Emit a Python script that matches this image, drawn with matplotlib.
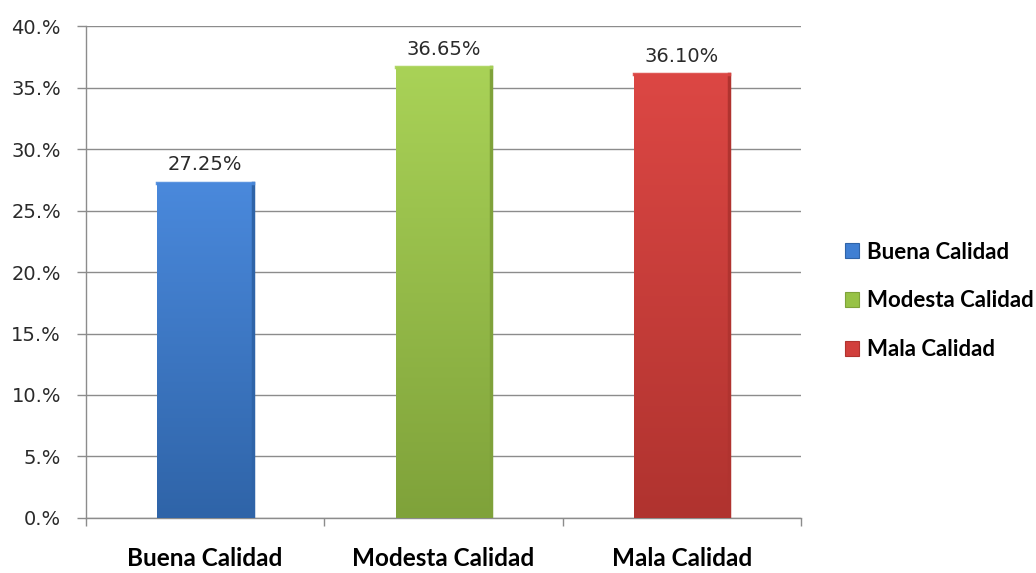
import numpy as np
import matplotlib
matplotlib.use("Agg")
import matplotlib.pyplot as plt
import matplotlib.colors as mcolors
from matplotlib.patches import Patch
from matplotlib.ticker import FixedLocator, FuncFormatter

categories = ['Buena Calidad', 'Modesta Calidad', 'Mala Calidad']
values = [27.25, 36.65, 36.10]
labels = ['27.25%', '36.65%', '36.10%']
colors_top = ['#4a89dc', '#a9d257', '#dc4744']
colors_bot = ['#2f64a8', '#7fa23a', '#b0332f']
colors_mid = ['#3f7fd3', '#97c246', '#d13f3c']
yticks = [0, 5, 10, 15, 20, 25, 30, 35, 40]

fig = plt.figure(figsize=(10.36, 5.73), dpi=100)
ax = fig.add_axes([0.083, 0.096, 0.690, 0.8586])

x = np.arange(len(categories))
width = 0.40
bars = ax.bar(x, values, width=width, color=colors_mid, edgecolor='none', zorder=3)

# vertical gradient inside each bar
for b, ct, cb in zip(bars, colors_top, colors_bot):
    cmap = mcolors.LinearSegmentedColormap.from_list('g', [cb, ct])
    grad = np.linspace(0, 1, 256).reshape(-1, 1)
    x0 = b.get_x()
    im = ax.imshow(grad, cmap=cmap, origin='lower', aspect='auto', zorder=3.5,
                   extent=[x0, x0 + b.get_width(), 0, b.get_height()])
    im.set_clip_path(b)
    # bevel: darker right edge, lighter top band
    ax.plot([x0 + b.get_width()] * 2, [0, b.get_height()], color=cb, lw=2.5, zorder=4)
    ax.plot([x0, x0 + b.get_width()], [b.get_height()] * 2, color=ct, lw=2.5, zorder=4,
            alpha=0.9)

for xi, v, lab in zip(x, values, labels):
    ax.annotate(lab, (xi, v), xytext=(0, 6), textcoords='offset points',
                ha='center', va='bottom', fontsize=14, color='#2a2a2a',
                family='DejaVu Sans')

ax.set_xlim(-0.5, 2.5)
ax.set_ylim(0, 40)
ax.yaxis.set_major_locator(FixedLocator(yticks))
ax.yaxis.set_major_formatter(FuncFormatter(lambda v, p: '%d.%%' % v))
ax.grid(axis='y', color='#8c8c8c', lw=1.0, zorder=0)
ax.set_axisbelow(True)

ax.set_xticks(x)
ax.set_xticklabels(categories, fontsize=17.5, fontweight='bold', family='Lato')
ax.tick_params(axis='x', length=0, pad=21)
ax.set_xticks([-0.5, 0.5, 1.5, 2.5], minor=True)
ax.tick_params(axis='x', which='minor', length=6, color='#8c8c8c', width=1)
ax.tick_params(axis='y', length=6.5, color='#8c8c8c', width=1, labelsize=14,
               labelcolor='#2a2a2a', pad=11.5)
for lab in ax.get_yticklabels():
    lab.set_family('DejaVu Sans')

for s in ['top', 'right']:
    ax.spines[s].set_visible(False)
for s in ['left', 'bottom']:
    ax.spines[s].set_color('#8c8c8c')
    ax.spines[s].set_linewidth(1)

handles = [Patch(facecolor=c, edgecolor=cb, lw=0.8) for c, cb in zip(colors_mid, colors_bot)]
leg = fig.legend(handles, categories, loc='center left', bbox_to_anchor=(0.796, 0.475),
                 frameon=False, prop={'family': 'Lato', 'weight': 'bold', 'size': 16},
                 handlelength=0.65, handleheight=0.65, handletextpad=0.35, labelspacing=1.25)

fig.savefig('out.png', dpi=100)
